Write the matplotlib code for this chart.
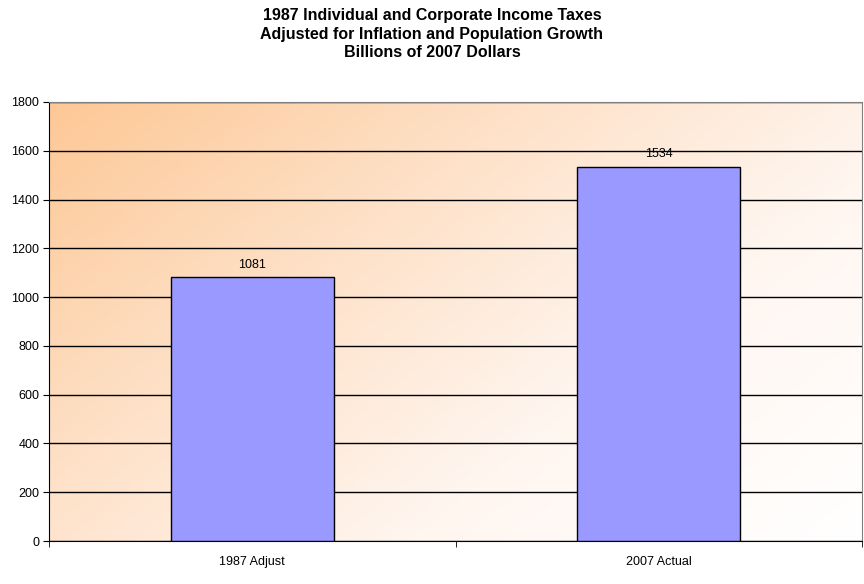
import numpy as np
import matplotlib
matplotlib.use("Agg")
import matplotlib.pyplot as plt
from matplotlib.colors import LinearSegmentedColormap

# data
categories = ["1987 Adjust", "2007 Actual"]
values = [1081, 1534]
yticks = [0, 200, 400, 600, 800, 1000, 1200, 1400, 1600, 1800]
title = ("1987 Individual and Corporate Income Taxes\n"
         "Adjusted for Inflation and Population Growth\n"
         "Billions of 2007 Dollars")

plt.rcParams['font.family'] = ['Liberation Sans', 'DejaVu Sans']

fig = plt.figure(figsize=(8.64, 5.84), dpi=100)
ax = fig.add_axes([49/864, 1 - 541/584, 813/864, 439/584])

# diagonal orange (top-left) -> white (bottom-right) background
cmap = LinearSegmentedColormap.from_list("bg", ["#fdc896", "#fee0c6", "#fff6f0", "#ffffff"])
gx, gy = np.meshgrid(np.linspace(0, 1, 300), np.linspace(0, 1, 200))
grad = gx * 0.6 + gy * 0.4
ax.imshow(grad, cmap=cmap, extent=[0, 1, 0, 1], transform=ax.transAxes,
          aspect="auto", origin="upper", zorder=0, interpolation="bilinear")

x = np.arange(len(categories))
ax.bar(x, values, width=0.4, color="#9999ff", edgecolor="black", linewidth=1, zorder=3)
for xi, v in zip(x, values):
    ax.text(xi, v + 28, str(v), ha="center", va="bottom", fontsize=9, zorder=4)

ax.set_xlim(-0.5, 1.5)
ax.set_ylim(0, 1800)
ax.set_yticks(yticks)
ax.yaxis.grid(True, color="black", linewidth=1, zorder=1)
ax.set_axisbelow(True)
ax.tick_params(axis="y", direction="out", length=4, labelsize=9, pad=3)

ax.set_xticks(x)
ax.set_xticklabels(categories, fontsize=9)
ax.set_xticks([-0.5, 0.5, 1.5], minor=True)
ax.tick_params(axis="x", which="major", length=0, pad=11)
ax.tick_params(axis="x", which="minor", direction="out", length=4)

for side in ["left", "bottom"]:
    ax.spines[side].set_color("black")
for side in ["top", "right"]:
    ax.spines[side].set_color("#808080")

fig.text(0.5, 1 - 34/584, title, ha="center", va="center", fontsize=11.5,
         fontweight="bold", linespacing=1.33)

fig.savefig("out.png", dpi=100)
